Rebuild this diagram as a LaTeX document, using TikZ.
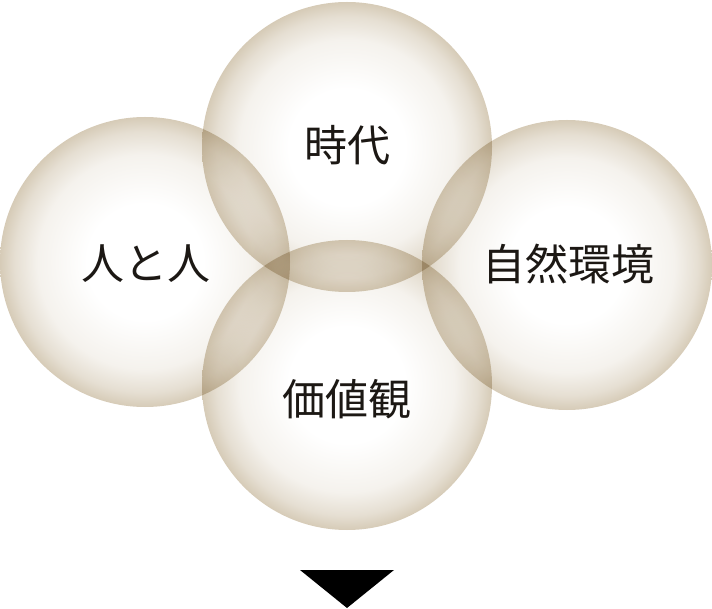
\documentclass[tikz,border=0pt]{standalone}
\usepackage{fontspec}
\newfontfamily\cjk{Noto Sans CJK JP}
\definecolor{tanedge}{RGB}{214,203,183}
\definecolor{txt}{RGB}{28,24,20}
\pgfdeclareradialshading{ballshade}{\pgfpoint{0bp}{0bp}}{color(0bp)=(white); color(10bp)=(white); color(18.5bp)=(tanedge!25!white); color(22.5bp)=(tanedge!62!white); color(25bp)=(tanedge); color(50bp)=(tanedge)}
\tikzset{
  ball/.style={circle, minimum size=290pt, inner sep=0pt, shading=ballshade},
  lbl/.style={font=\cjk\fontsize{43pt}{45pt}\selectfont, text=txt, inner sep=0pt},
}
\begin{document}
\begin{tikzpicture}[x=1pt,y=-1pt]
\useasboundingbox (0,0) rectangle (712,609);
\begin{scope}[blend mode=multiply]
\node[ball] (top) at (347,147) {};
\node[ball] (left) at (145,262) {};
\node[ball] (right) at (567,265) {};
\node[ball] (bottom) at (347,385) {};
\end{scope}
\node[lbl] (ttop) at (347,145) {時代};
\node[lbl] (tleft) at (146,264) {人と人};
\node[lbl] (tright) at (568,264) {自然環境};
\node[lbl] (tbottom) at (347,399) {価値観};
\coordinate (a1) at (300,570);
\coordinate (a2) at (394,570);
\coordinate (a3) at (347,608);
\fill[black] (a1) -- (a2) -- (a3) -- cycle;
\end{tikzpicture}
\end{document}
